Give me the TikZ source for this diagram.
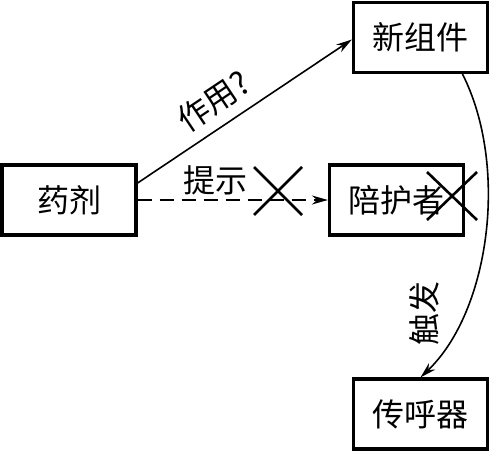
\documentclass[tikz,border=0pt]{standalone}
\usepackage{fontspec}
\newfontfamily\cjk{Noto Sans CJK SC}
\usetikzlibrary{arrows.meta,positioning}

\begin{document}
\begin{tikzpicture}[x=0.5pt,y=0.5pt]
\tikzset{
  box/.style={draw,line width=1.6pt,minimum width=67pt,minimum height=35pt,inner sep=1pt,font=\cjk\fontsize{16}{16}\selectfont},
  lbl/.style={inner sep=1pt,font=\cjk\fontsize{16}{16}\selectfont},
  directed/.style={-{Stealth[length=8pt,width=4.5pt]},line width=0.8pt},
  cross/.style={line width=1.3pt}
}
\useasboundingbox (0,0) rectangle (490,451);
\node[box] (n_drug) at (69,251) {药剂};
\node[box] (n_new) at (420.5,413.5) {新组件};
\node[box] (n_escort) at (396.5,251) {陪护者};
\node[box] (n_pager) at (420.5,37) {传呼器};
\draw[directed] ([yshift=8.5pt]n_drug.east) -- node[lbl,pos=0.42,above=4pt,sloped] (l_effect) {作用?} ([yshift=-1pt]n_new.west);
\draw[directed,dash pattern=on 7pt off 4pt] (n_drug.east) -- node[lbl,pos=0.41,above=1pt] (l_hint) {提示} (n_escort.west);
\draw[directed] ([xshift=21pt]n_new.south) .. controls (509,285) and (490,140) .. (n_pager.north);
\node[lbl,rotate=90] (l_trigger) at (424,138) {触发};
% crossed out
\coordinate (x_hint) at (278,260);
\coordinate (x_escort) at (452,255);
\draw[cross] ([shift={(-24,-24)}]x_hint) -- ([shift={(24,24)}]x_hint);
\draw[cross] ([shift={(-24,24)}]x_hint) -- ([shift={(24,-24)}]x_hint);
\draw[cross] ([shift={(-25,-24)}]x_escort) -- ([shift={(25,24)}]x_escort);
\draw[cross] ([shift={(-25,24)}]x_escort) -- ([shift={(25,-24)}]x_escort);
\end{tikzpicture}
\end{document}
